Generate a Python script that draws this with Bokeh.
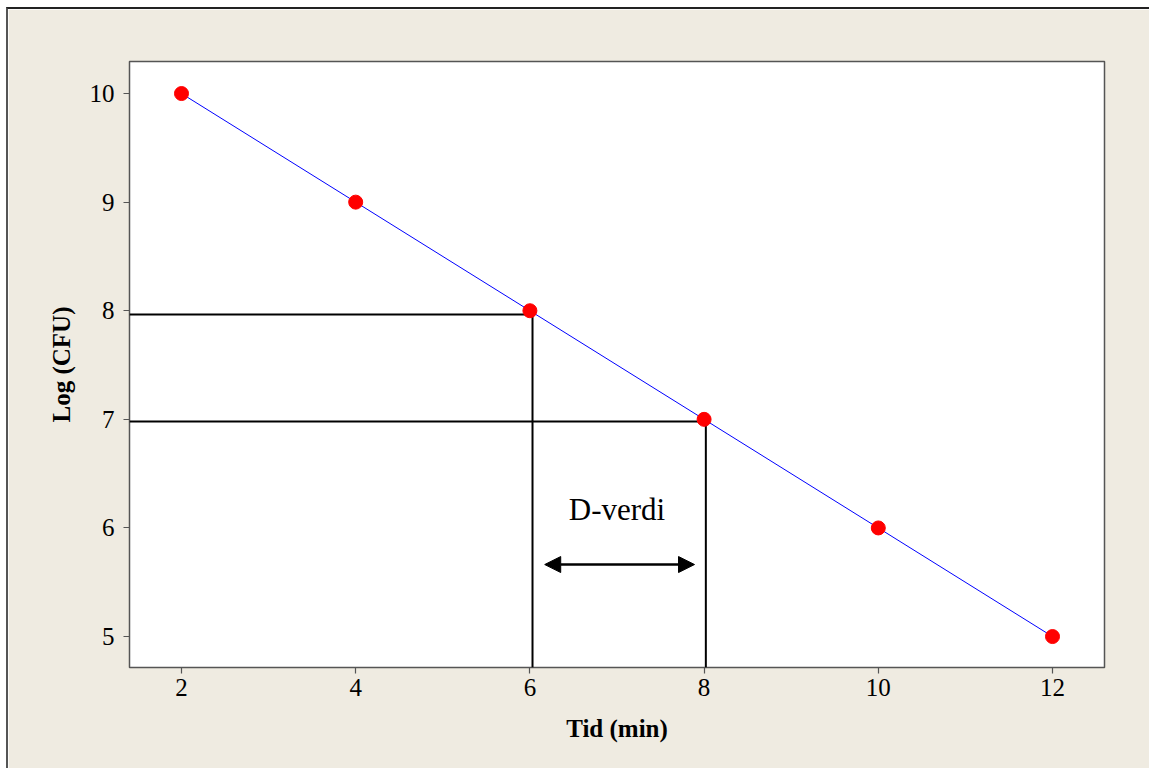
from bokeh.plotting import figure
from bokeh.models import Range1d, Arrow, NormalHead, FixedTicker
from bokeh.core.properties import value
from bokeh.embed import file_html
from bokeh.resources import INLINE

# data
time_min = [2, 4, 6, 8, 10, 12]
log_cfu = [10, 9, 8, 7, 6, 5]
x_ticks = [2, 4, 6, 8, 10, 12]
y_ticks = [5, 6, 7, 8, 9, 10]
# reference guide lines
guide_x = [6.03, 8.02]
guide_y = [7.965, 6.98]
arrow_x = [6.17, 7.89]
arrow_y = 5.663
label_x = 7.0
label_y = 6.17
label_text = "D-verdi"

BG = "#EFEBE1"
FONT = "Liberation Serif"

x0, x1 = 1.403, 12.597
y0, y1 = 4.715, 10.295

p = figure(width=1143, height=761, output_backend="svg", toolbar_location=None,
           x_range=Range1d(x0, x1), y_range=Range1d(y0, y1),
           min_border_left=121, min_border_top=52, min_border_right=47, min_border_bottom=103)
p.styles = {"margin-left": "6px", "margin-top": "7px",
            "border-left": "2px solid #555555", "border-top": "2px solid #222222"}
p.border_fill_color = BG
p.background_fill_color = "white"
p.outline_line_color = "#555555"
p.outline_line_width = 1.5
p.grid.visible = False

for ax in (p.xaxis[0], p.yaxis[0]):
    ax.axis_line_color = None
    ax.major_tick_line_color = "#555555"
    ax.major_tick_line_width = 1.2
    ax.major_tick_in = 0
    ax.major_tick_out = 6
    ax.minor_tick_line_color = None
    ax.major_label_text_font = FONT
    ax.major_label_text_font_size = "25px"
    ax.major_label_text_color = "black"
    ax.axis_label_text_font = FONT
    ax.axis_label_text_font_style = "bold"
    ax.axis_label_text_font_size = "25px"
    ax.axis_label_text_color = "black"

p.xaxis.ticker = FixedTicker(ticks=x_ticks)
p.yaxis.ticker = FixedTicker(ticks=y_ticks)
p.xaxis.axis_label = "Tid (min)"
p.yaxis.axis_label = "Log (CFU)"
p.xaxis.major_label_standoff = 5
p.yaxis.major_label_standoff = 9
p.xaxis.axis_label_standoff = 16
p.yaxis.axis_label_standoff = 12

# guide lines
for gx, gy in zip(guide_x, guide_y):
    p.line([x0, gx], [gy, gy], line_color="black", line_width=2)
    p.line([gx, gx], [gy, y0], line_color="black", line_width=2)

# data line and points
p.line(time_min, log_cfu, line_color="#0000FF", line_width=1)
p.scatter(time_min, log_cfu, size=14, fill_color="#FF0000", line_color="#FF0000")

# arrow
p.add_layout(Arrow(x_start=arrow_x[0], y_start=arrow_y, x_end=arrow_x[1], y_end=arrow_y,
                   line_color="black", line_width=2.5,
                   start=NormalHead(size=16, fill_color="black", line_color="black"),
                   end=NormalHead(size=16, fill_color="black", line_color="black")))

p.text([label_x], [label_y], text=[label_text], text_font=value(FONT),
       text_font_size="31px", text_align="center", text_baseline="middle", text_color="black")

open("out.html", "w").write(file_html(p, INLINE))
